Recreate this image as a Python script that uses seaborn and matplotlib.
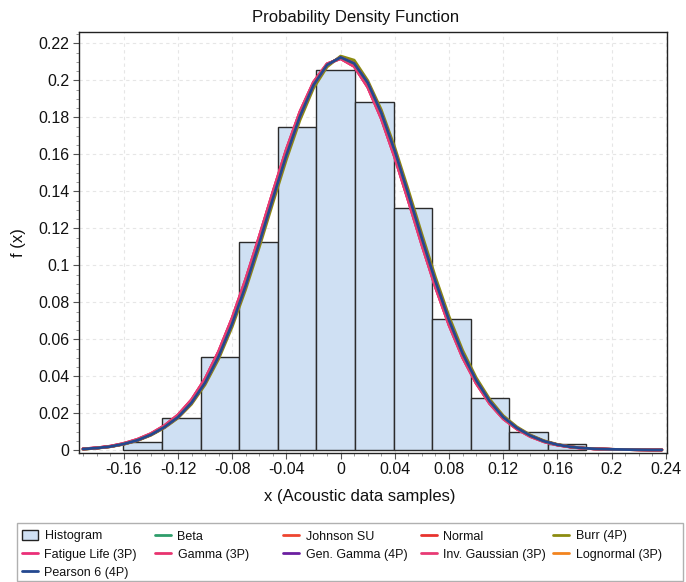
import matplotlib
matplotlib.use("Agg")
import matplotlib.pyplot as plt
from matplotlib.patches import Rectangle
from matplotlib.lines import Line2D
from matplotlib.patches import Patch
from matplotlib.ticker import MultipleLocator, FixedLocator
import seaborn as sns

# ---------------- data ----------------
bin_edges = [-0.1602, -0.1317, -0.1033, -0.0748, -0.0463, -0.0179, 0.0106,
             0.0391, 0.0675, 0.0960, 0.1245, 0.1529, 0.1814]
bin_heights = [0.0048, 0.0174, 0.0504, 0.1125, 0.1750, 0.2057, 0.1885,
               0.1312, 0.0711, 0.0282, 0.0102, 0.0035]

curve_x = [-0.19, -0.18, -0.17, -0.16, -0.15, -0.14, -0.13, -0.12, -0.11, -0.10,
           -0.09, -0.08, -0.07, -0.06, -0.05, -0.04, -0.03, -0.02, -0.01, 0.00,
           0.01, 0.02, 0.03, 0.04, 0.05, 0.06, 0.07, 0.08, 0.09, 0.10,
           0.11, 0.12, 0.13, 0.14, 0.15, 0.16, 0.17, 0.18, 0.19, 0.20,
           0.21, 0.22, 0.23, 0.237]
curve_main = [0.0008, 0.0013, 0.0021, 0.0035, 0.0055, 0.0085, 0.0126, 0.0180, 0.0258, 0.0366,
              0.0508, 0.0685, 0.0891, 0.1121, 0.1361, 0.1596, 0.1806, 0.1975, 0.2084, 0.2125,
              0.2092, 0.1988, 0.1825, 0.1618, 0.1385, 0.1145, 0.0914, 0.0704, 0.0524, 0.0380,
              0.0266, 0.0180, 0.0122, 0.0080, 0.0050, 0.0031, 0.0019, 0.0012, 0.0008, 0.0006,
              0.0005, 0.0004, 0.0003, 0.0003]
curve_pink = [0.0009, 0.0014, 0.0023, 0.0038, 0.0060, 0.0091, 0.0134, 0.0192, 0.0274, 0.0387,
              0.0535, 0.0716, 0.0926, 0.1157, 0.1396, 0.1628, 0.1831, 0.1991, 0.2090, 0.2118,
              0.2076, 0.1964, 0.1794, 0.1583, 0.1349, 0.1110, 0.0882, 0.0677, 0.0502, 0.0363,
              0.0253, 0.0171, 0.0116, 0.0075, 0.0047, 0.0029, 0.0018, 0.0011, 0.0008, 0.0006,
              0.0005, 0.0004, 0.0003, 0.0003]
curve_burr = [0.0007, 0.0012, 0.0020, 0.0033, 0.0053, 0.0082, 0.0122, 0.0175, 0.0250, 0.0355,
              0.0494, 0.0668, 0.0871, 0.1098, 0.1337, 0.1572, 0.1785, 0.1958, 0.2073, 0.2132,
              0.2110, 0.2000, 0.1842, 0.1638, 0.1408, 0.1169, 0.0937, 0.0725, 0.0542, 0.0394,
              0.0277, 0.0188, 0.0128, 0.0084, 0.0053, 0.0033, 0.0020, 0.0012, 0.0008, 0.0006,
              0.0005, 0.0004, 0.0003, 0.0003]

dist_names = ["Beta", "Johnson SU", "Normal", "Burr (4P)", "Fatigue Life (3P)",
              "Gamma (3P)", "Gen. Gamma (4P)", "Inv. Gaussian (3P)", "Lognormal (3P)",
              "Pearson 6 (4P)"]
dist_colors = ["#2e9d6a", "#ee4530", "#e8332e", "#8c8c10", "#ea2f78",
               "#e8336f", "#6b1fa0", "#e83a74", "#f2841f", "#24488f"]
dist_curves = [curve_main, curve_main, curve_main, curve_burr, curve_pink,
               curve_pink, curve_main, curve_pink, curve_main, curve_main]

x_ticks = [-0.16, -0.12, -0.08, -0.04, 0.0, 0.04, 0.08, 0.12, 0.16, 0.2, 0.24]
x_tick_labels = ["-0.16", "-0.12", "-0.08", "-0.04", "0", "0.04", "0.08", "0.12", "0.16", "0.2", "0.24"]
y_ticks = [0, 0.02, 0.04, 0.06, 0.08, 0.1, 0.12, 0.14, 0.16, 0.18, 0.2, 0.22]
y_tick_labels = ["0", "0.02", "0.04", "0.06", "0.08", "0.1", "0.12", "0.14", "0.16", "0.18", "0.2", "0.22"]

# ---------------- styling ----------------
sns.set_theme(style="white")
plt.rcParams['font.family'] = ['Liberation Sans', 'DejaVu Sans']

W, H = 686, 582
fig = plt.figure(figsize=(W / 100, H / 100), dpi=100)
ax = fig.add_axes([79 / W, 1 - 452.5 / H, (667 - 79) / W, (452.5 - 32) / H])

hist_fill = "#cfe0f3"
centers = [(bin_edges[i] + bin_edges[i + 1]) / 2 for i in range(len(bin_heights))]
sns.histplot(x=centers, weights=bin_heights, bins=bin_edges, stat="count",
             color=hist_fill, edgecolor="#2b2b2b", linewidth=1.0, alpha=1.0, ax=ax,
             zorder=2)

for name, col, cv in zip(dist_names, dist_colors, dist_curves):
    sns.lineplot(x=curve_x, y=cv, color=col, linewidth=2.0, ax=ax, zorder=3)

ax.set_xlim(-0.193, 0.2408)
ax.set_ylim(-0.0011, 0.2262)
ax.xaxis.set_major_locator(FixedLocator(x_ticks))
ax.set_xticklabels(x_tick_labels)
ax.yaxis.set_major_locator(FixedLocator(y_ticks))
ax.set_yticklabels(y_tick_labels)
ax.xaxis.set_minor_locator(MultipleLocator(0.01))
ax.yaxis.set_minor_locator(MultipleLocator(0.005))
ax.tick_params(axis="both", which="major", direction="out", length=4, width=0.8,
               color="#555555", labelsize=11.5, pad=3, labelcolor="#111111",
               bottom=True, left=True)
ax.tick_params(axis="both", which="minor", direction="out", length=2, width=0.6,
               color="#888888", bottom=True, left=True)
ax.grid(True, which="major", linestyle=(0, (3, 3)), color="#e6e6e6", linewidth=0.8, zorder=0)
ax.set_axisbelow(True)
for s in ax.spines.values():
    s.set_visible(True)
    s.set_color("#222222")
    s.set_linewidth(1.0)

ax.set_title("Probability Density Function", fontsize=12, pad=7, color="#111111",
             x=(356 - 79) / 588)
ax.set_xlabel("x (Acoustic data samples)", fontsize=12, color="#111111")
ax.xaxis.set_label_coords((360 - 79) / 588, -(496 - 452.5) / (452.5 - 32))
ax.xaxis.label.set_va("center")
ax.set_ylabel("f (x)", fontsize=12, color="#111111")
ax.yaxis.set_label_coords(-(79 - 19) / 588, 0.5)
ax.yaxis.label.set_va("center")

# ---------------- legend ----------------
handles = {"Histogram": Patch(facecolor=hist_fill, edgecolor="#222222", linewidth=1.0)}
for name, col in zip(dist_names, dist_colors):
    handles[name] = Line2D([], [], color=col, linewidth=2.0)

columns = [["Histogram", "Fatigue Life (3P)", "Pearson 6 (4P)"],
           ["Beta", "Gamma (3P)"],
           ["Johnson SU", "Gen. Gamma (4P)"],
           ["Normal", "Inv. Gaussian (3P)"],
           ["Burr (4P)", "Lognormal (3P)"]]
col_x = [22, 155, 283, 421, 553]
for cx, names in zip(col_x, columns):
    fig.legend([handles[n] for n in names], names, loc="upper left",
               bbox_to_anchor=(cx / W, 1 - 530 / H), frameon=False, fontsize=9,
               handlelength=1.3, handleheight=0.9, handletextpad=0.5, labelspacing=0.46,
               borderpad=0.0, borderaxespad=0.0, labelcolor="#111111")

fig.add_artist(Rectangle((17 / W, 1 - 581 / H), 666 / W, 58 / H, transform=fig.transFigure,
                         fill=False, edgecolor="#b0b0b0", linewidth=1.0))

fig.savefig("out.png", dpi=100)
